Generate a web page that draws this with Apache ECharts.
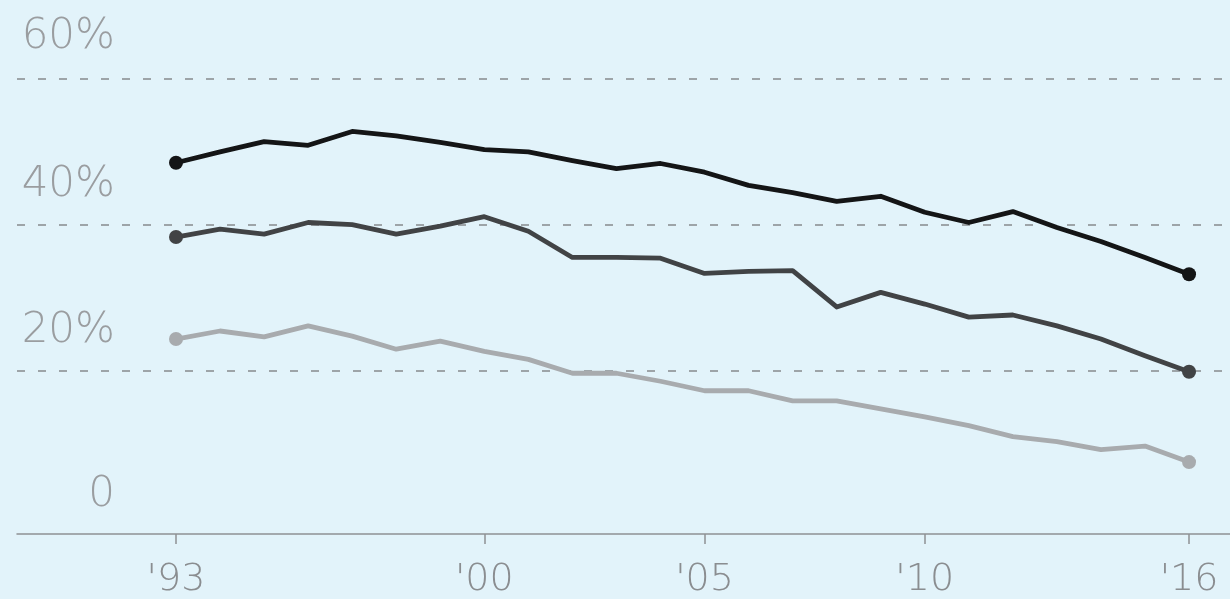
<!DOCTYPE html>
<html>
<head>
<meta charset="utf-8">
<script src="https://cdn.jsdelivr.net/npm/echarts@6/dist/echarts.min.js"></script>
<style>
  html, body { margin: 0; padding: 0; background: #e2f3fa; }
  #chart { width: 1230px; height: 599px; }
</style>
</head>
<body>
<div id="chart"></div>
<script>
// ---- data ----
const years = [1993,1994,1995,1996,1997,1998,1999,2000,2001,2002,2003,2004,2005,2006,2007,2008,2009,2010,2011,2012,2013,2014,2015,2016];
const seriesTop = [48.5,50.0,51.4,50.9,52.8,52.2,51.3,50.3,50.0,48.8,47.7,48.4,47.2,45.4,44.4,43.2,43.9,41.7,40.3,41.8,39.6,37.7,35.5,33.2];
const seriesMid = [38.3,39.4,38.7,40.3,40.0,38.7,39.8,41.1,39.1,35.5,35.5,35.4,33.3,33.6,33.7,28.7,30.7,29.1,27.3,27.6,26.1,24.3,22.0,19.8];
const seriesLow = [24.3,25.4,24.6,26.1,24.7,22.9,24.0,22.6,21.5,19.6,19.6,18.5,17.2,17.2,15.8,15.8,14.7,13.6,12.4,10.9,10.2,9.1,9.6,7.4];
const xTickYears = [1993,2000,2005,2010,2016];
const yTicks = [0,20,40,60];

const chart = echarts.init(document.getElementById('chart'));
const pairs = arr => years.map((y, i) => [y, arr[i]]);
const endSize = (v, p) => (p.dataIndex === 0 || p.dataIndex === years.length - 1) ? 14 : 0;

function lineSeries(arr, color, z) {
  return {
    type: 'line',
    data: pairs(arr),
    z: z,
    showSymbol: true,
    showAllSymbol: true,
    symbol: 'circle',
    symbolSize: endSize,
    lineStyle: { color: color, width: 4.8, join: 'round', cap: 'round' },
    itemStyle: { color: color },
    emphasis: { disabled: true }
  };
}

const labelFont = { fontFamily: 'DejaVu Sans', fontWeight: 200, fontSize: 42, lineHeight: 42, color: '#9a9da0' };

chart.setOption({
  backgroundColor: '#e2f3fa',
  animation: false,
  grid: { left: 17, right: 0, top: 79, bottom: 82, containLabel: false },
  xAxis: {
    type: 'value',
    min: 1989.39,
    max: 2016.93,
    offset: 18,
    axisLine: { show: true, onZero: false, lineStyle: { color: '#8e9194', width: 1.5 } },
    axisTick: { show: true, length: 10, customValues: xTickYears, lineStyle: { color: '#8e9194', width: 1.5 } },
    axisLabel: {
      customValues: xTickYears,
      margin: 27,
      formatter: v => "'" + String(v).slice(2),
      fontFamily: 'DejaVu Sans',
      fontWeight: 200,
      fontSize: 38,
      color: '#8a8d90'
    },
    splitLine: { show: false }
  },
  yAxis: {
    type: 'value',
    min: 0,
    max: 60,
    interval: 20,
    axisLine: { show: false },
    axisTick: { show: false },
    splitLine: {
      show: true,
      showMinLine: false,
      lineStyle: { color: '#878a8d', width: 1.5, type: [8, 13] }
    },
    axisLabel: {
      inside: true,
      margin: 98,
      align: 'right',
      verticalAlign: 'bottom',
      formatter: v => v === 0 ? '{z|0}' : (v === 60 ? '{t|' + v + '%}' : '{a|' + v + '%}'),
      rich: {
        a: Object.assign({ padding: [0, 0, 37, 0] }, labelFont),
        t: Object.assign({ padding: [0, 0, 42, 0] }, labelFont),
        z: Object.assign({ padding: [0, 0, 0, 0] }, labelFont)
      }
    }
  },
  series: [
    lineSeries(seriesLow, '#a8abae', 2),
    lineSeries(seriesMid, '#414345', 3),
    lineSeries(seriesTop, '#141516', 4)
  ]
});
</script>
</body>
</html>
